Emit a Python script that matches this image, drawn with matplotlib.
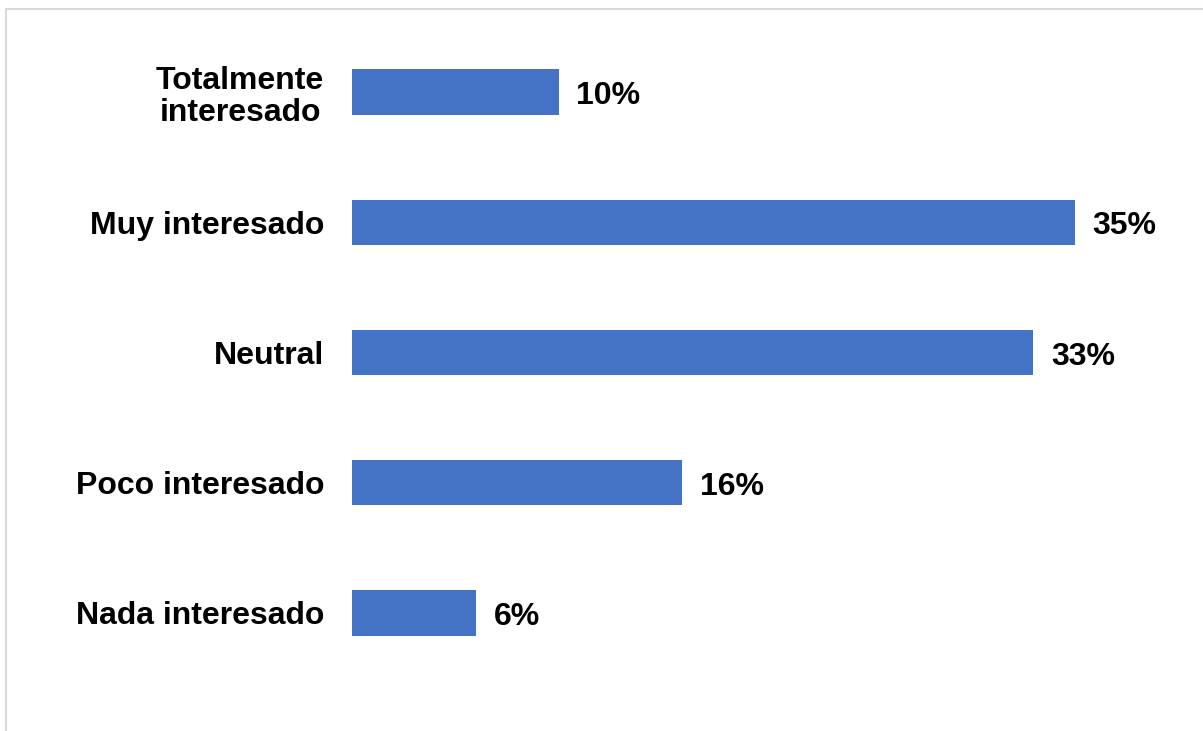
import matplotlib

matplotlib.use("Agg")
import matplotlib.pyplot as plt
from matplotlib.lines import Line2D

plt.rcParams["font.family"] = ["Liberation Sans", "DejaVu Sans"]

# nivel de interés (de arriba hacia abajo)
categorias = [
    "Totalmente\ninteresado",
    "Muy interesado",
    "Neutral",
    "Poco interesado",
    "Nada interesado",
]
porcentajes = [10, 35, 33, 16, 6]

W, H = 1203, 731
fig = plt.figure(figsize=(W / 100, H / 100), dpi=100)
fig.patch.set_facecolor("white")

# marco gris claro del área del gráfico
fig.add_artist(Line2D([6 / W, 1], [1 - 9 / H, 1 - 9 / H], color="#d9d9d9", lw=1.5))
fig.add_artist(Line2D([6 / W, 6 / W], [0, 1 - 9 / H], color="#d9d9d9", lw=1.5))

ax = fig.add_axes([352 / W, 1 - 678 / H, 826 / W, 651 / H])
y = range(len(categorias))
ax.barh(y, porcentajes, height=0.35, color="#4472C4")
ax.set_xlim(0, 40)
ax.set_ylim(len(categorias) - 0.5, -0.5)

for yi, v in zip(y, porcentajes):
    ax.annotate(f"{v}%", (v, yi), xytext=(18, -4), textcoords="offset pixels",
                ha="left", va="center", fontsize=23, fontweight="bold")

ax.set_yticks(list(y))
ax.set_yticklabels(categorias, fontsize=23, fontweight="bold",
                   multialignment="center", linespacing=1.1)
ax.tick_params(axis="y", length=0, pad=20)
ax.set_xticks([])
for s in ax.spines.values():
    s.set_visible(False)

fig.savefig("out.png", dpi=100)
plt.close(fig)
